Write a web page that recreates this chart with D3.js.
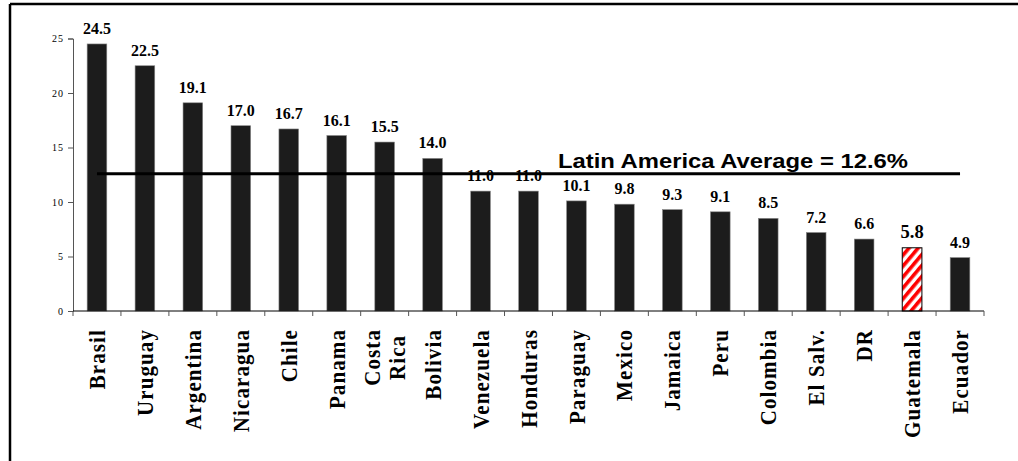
<!DOCTYPE html>
<html>
<head>
<meta charset="utf-8">
<script src="https://cdn.jsdelivr.net/npm/d3@7"></script>
<style>
  html, body { margin: 0; padding: 0; background: #fff; }
  svg { display: block; }
</style>
</head>
<body>
<svg id="chart" width="1018" height="461"></svg>
<script>
const countries = ["Brasil","Uruguay","Argentina","Nicaragua","Chile","Panama","Costa Rica","Bolivia","Venezuela","Honduras","Paraguay","Mexico","Jamaica","Peru","Colombia","El Salv.","DR","Guatemala","Ecuador"];
const values = [24.5,22.5,19.1,17.0,16.7,16.1,15.5,14.0,11.0,11.0,10.1,9.8,9.3,9.1,8.5,7.2,6.6,5.8,4.9];
const yTicks = [0,5,10,15,20,25];
const average = 12.6;
const averageLabel = "Latin America Average = 12.6%";
const highlight = "Guatemala";

const svg = d3.select("#chart");

// frame (only left and top edges visible in reference)
svg.append("line").attr("x1",10).attr("x2",1018).attr("y1",4).attr("y2",4).attr("stroke","#000").attr("stroke-width",2.5);
svg.append("line").attr("x1",10).attr("x2",10).attr("y1",4).attr("y2",461).attr("stroke","#000").attr("stroke-width",2.5);

// pattern for highlighted bar
const defs = svg.append("defs");
const pat = defs.append("pattern").attr("id","stripes").attr("patternUnits","userSpaceOnUse")
  .attr("width",7).attr("height",7).attr("patternTransform","rotate(40)");
pat.append("rect").attr("width",7).attr("height",7).attr("fill","#fff");
pat.append("rect").attr("width",3.6).attr("height",7).attr("fill","#ff0000");

const x = d3.scaleBand().domain(countries).range([73,984]).paddingInner(0.59).paddingOuter(0.295);
const y = d3.scaleLinear().domain([0,25]).range([311,38.5]);

// y axis
const yAxis = svg.append("g").attr("transform","translate(73,0)")
  .call(d3.axisLeft(y).tickValues(yTicks).tickSize(5).tickPadding(4).tickFormat(d3.format("d")));
yAxis.select(".domain").attr("stroke","#555").attr("stroke-width",1);
yAxis.selectAll(".tick line").attr("stroke","#555");
yAxis.selectAll("text").attr("font-family","'Liberation Serif', serif").attr("font-size",10)
  .attr("letter-spacing","1px").attr("fill","#000");

// bars
svg.append("g").selectAll("rect").data(countries).join("rect")
  .attr("x", d => x(d))
  .attr("y", (d,i) => y(values[i]))
  .attr("width", x.bandwidth())
  .attr("height", (d,i) => y(0) - y(values[i]))
  .attr("fill", d => d === highlight ? "url(#stripes)" : "#1c1c1c")
  .attr("stroke", d => d === highlight ? "#000" : "#888")
  .attr("stroke-width", d => d === highlight ? 1 : 0.6);

// x axis line and boundary ticks
const xAxisG = svg.append("g");
xAxisG.append("line").attr("x1",73).attr("x2",984).attr("y1",y(0)).attr("y2",y(0)).attr("stroke","#000").attr("stroke-width",1);
xAxisG.selectAll("line.tk").data(d3.range(countries.length+1)).join("line").attr("class","tk")
  .attr("x1", i => 73 + i*x.step()).attr("x2", i => 73 + i*x.step())
  .attr("y1", y(0)).attr("y2", y(0)+5).attr("stroke","#555").attr("stroke-width",1);

// value labels
svg.append("g").selectAll("text").data(countries).join("text")
  .attr("x", d => x(d) + x.bandwidth()/2)
  .attr("y", (d,i) => y(values[i]) - 10)
  .attr("text-anchor","middle")
  .attr("font-family","'Liberation Serif', serif")
  .attr("font-weight","bold")
  .attr("font-size", d => d === highlight ? 18.5 : 16)
  .attr("fill","#000")
  .text((d,i) => values[i].toFixed(1));

// category labels (rotated)
const labelTop = 329;
const lineGap = 25;
const catG = svg.append("g");
countries.forEach(c => {
  const lines = c === "Costa Rica" ? ["Costa","Rica"] : [c];
  const cx = x(c) + x.bandwidth()/2;
  const texts = lines.map((ln, k) => {
    const off = (k - (lines.length-1)/2) * lineGap;
    return catG.append("text")
      .attr("font-family","'Liberation Serif', serif")
      .attr("font-weight","bold")
      .attr("font-size",21)
      .attr("letter-spacing","1.1px")
      .attr("fill","#000")
      .attr("text-anchor","middle")
      .attr("dy","0.35em")
      .datum(off)
      .text(ln);
  });
  const maxLen = d3.max(texts, t => t.node().getComputedTextLength());
  const cy = labelTop + maxLen/2;
  texts.forEach(t => {
    const off = t.datum();
    t.attr("transform", `translate(${cx+off},${cy}) scale(1.1,1) rotate(-90)`);
  });
});

// average line
const first = countries[0], last = countries[countries.length-1];
svg.append("line")
  .attr("x1", x(first) + x.bandwidth()/2)
  .attr("x2", x(last) + x.bandwidth()/2)
  .attr("y1", y(average)).attr("y2", y(average))
  .attr("stroke","#000").attr("stroke-width",3);

svg.append("text")
  .attr("x",558).attr("y", y(average) - 6)
  .attr("font-family","'Liberation Sans', Arial, sans-serif")
  .attr("font-weight","bold")
  .attr("font-size",20)
  .attr("textLength",350).attr("lengthAdjust","spacingAndGlyphs")
  .attr("fill","#000")
  .text(averageLabel);
</script>
</body>
</html>
